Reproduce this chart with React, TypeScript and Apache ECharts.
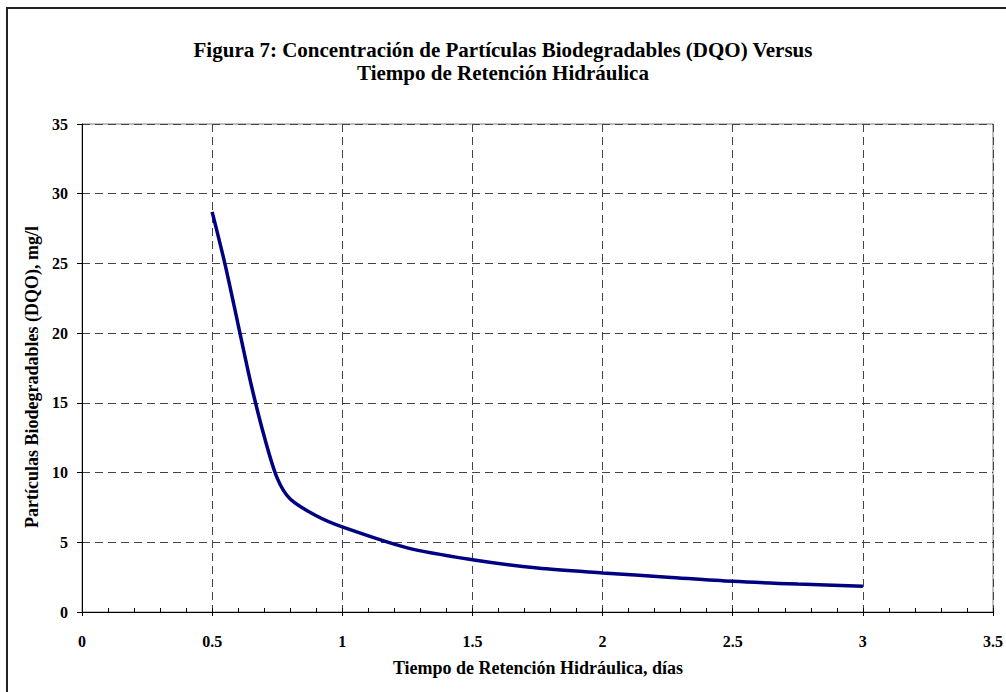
import React, { useEffect, useRef } from "react";
import * as echarts from "echarts";

const titleLines = [
  "Figura 7: Concentración de Partículas Biodegradables (DQO) Versus",
  "Tiempo de Retención Hidráulica",
];
const xAxisName = "Tiempo de Retención Hidráulica, días";
const yAxisName = "Partículas Biodegradables (DQO), mg/l";

const retentionDays = [0.5, 0.55, 0.6, 0.65, 0.7, 0.75, 0.8, 0.9, 1, 1.25, 1.5, 1.75, 2, 2.25, 2.5, 2.75, 3];
const dqoValues = [28.7, 24.9, 20.6, 16.3, 12.6, 9.6, 8.1, 6.9, 6.1, 4.6, 3.75, 3.15, 2.8, 2.5, 2.2, 2.0, 1.85];

const FONT = "'Liberation Serif', 'Times New Roman', serif";

export default function App() {
  const ref = useRef<HTMLDivElement>(null);
  useEffect(() => {
    if (!ref.current) return;
    const chart = echarts.init(ref.current, undefined, { renderer: "svg" });
    const seriesData = retentionDays.map((d, i) => [d, dqoValues[i]]);
    const labelStyle = { fontFamily: FONT, fontWeight: "bold" as const, fontSize: 16, color: "#000" };
    chart.setOption({
      animation: false,
      backgroundColor: "#fff",
      grid: {
        left: 82,
        right: 13,
        top: 124,
        bottom: 80,
        show: true,
        borderColor: "#808080",
        borderWidth: 1,
        backgroundColor: "transparent",
      },
      graphic: [
        {
          type: "rect",
          shape: { x: 7, y: 8, width: 1020, height: 710 },
          style: { fill: "none", stroke: "#222", lineWidth: 2 },
          silent: true,
        },
        {
          type: "text",
          x: 503,
          y: 50,
          style: { text: titleLines[0], ...labelStyle, fontSize: 21, fill: "#000", textAlign: "center", textVerticalAlign: "middle" },
        },
        {
          type: "text",
          x: 503,
          y: 73,
          style: { text: titleLines[1], ...labelStyle, fontSize: 21, fill: "#000", textAlign: "center", textVerticalAlign: "middle" },
        },
        {
          type: "text",
          x: 538,
          y: 668,
          style: { text: xAxisName, ...labelStyle, fontSize: 18, fill: "#000", textAlign: "center", textVerticalAlign: "middle" },
        },
        {
          type: "text",
          x: 32,
          y: 377,
          rotation: Math.PI / 2,
          style: { text: yAxisName, ...labelStyle, fontSize: 18, fill: "#000", textAlign: "center", textVerticalAlign: "middle" },
        },
      ],
      xAxis: [
        {
          type: "value",
          min: 0,
          max: 3.5,
          interval: 0.5,
          axisLine: { show: true, lineStyle: { color: "#000", width: 1 } },
          axisTick: { show: true, inside: false, length: 4, lineStyle: { color: "#000" } },
          axisLabel: { ...labelStyle, margin: 21 },
          splitLine: { show: true, lineStyle: { color: "#444", type: [8, 5], width: 1 } },
        },
        {
          type: "value",
          position: "bottom",
          min: 0,
          max: 3.5,
          interval: 0.1,
          axisLine: { show: false },
          axisTick: { show: true, inside: true, length: 4, lineStyle: { color: "#000" } },
          axisLabel: { show: false },
          splitLine: { show: false },
        },
      ],
      yAxis: {
        type: "value",
        min: 0,
        max: 35,
        interval: 5,
        axisLine: { show: true, lineStyle: { color: "#000", width: 1 } },
        axisTick: { show: true, inside: false, length: 5, lineStyle: { color: "#000" } },
        axisLabel: { ...labelStyle, margin: 14 },
        splitLine: { show: true, lineStyle: { color: "#444", type: [8, 5], width: 1 } },
      },
      series: [
        {
          type: "line",
          xAxisIndex: 0,
          data: seriesData,
          smooth: 0.3,
          showSymbol: false,
          lineStyle: { color: "#000080", width: 3.5 },
        },
      ],
    });
    return () => chart.dispose();
  }, []);
  return <div ref={ref} style={{ position: "absolute", left: 0, top: 0, width: 1006, height: 692 }} />;
}
